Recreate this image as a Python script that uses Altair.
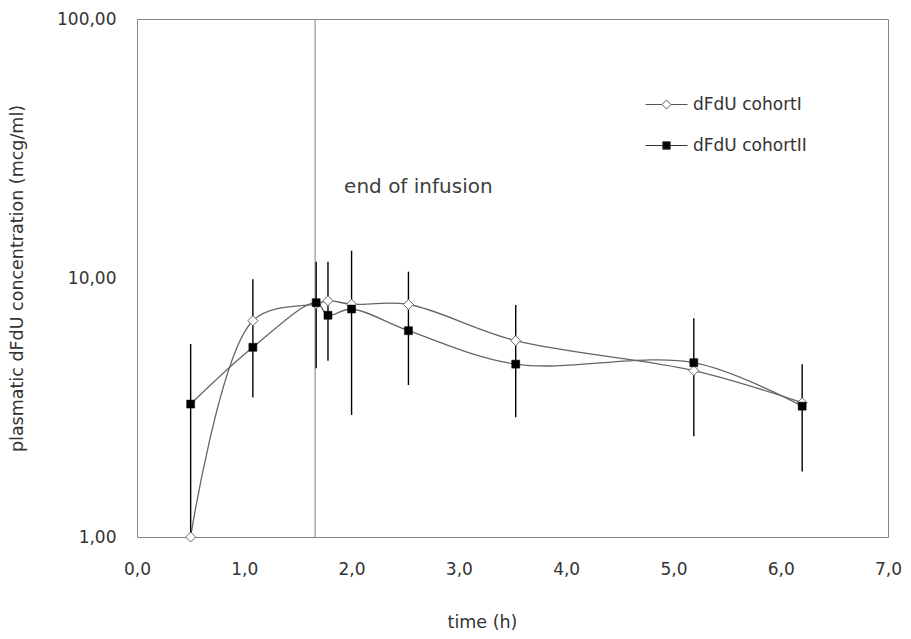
import altair as alt
import pandas as pd

# ---------------- data ----------------
series_names = ["dFdU cohortI", "dFdU cohortII"]
times = [0.5, 1.08, 1.67, 1.78, 2.0, 2.53, 3.53, 5.19, 6.2]
conc_cohort1 = [1.0, 6.84, 7.95, 8.17, 7.92, 7.90, 5.73, 4.39, 3.30]
conc_cohort2 = [3.26, 5.40, 8.03, 7.18, 7.59, 6.26, 4.65, 4.71, 3.20]
err_low = [1.0, 3.46, 4.48, 4.79, 2.96, 3.86, 2.90, 2.45, 1.79]
err_high = [5.56, 9.89, 11.56, 11.56, 12.75, 10.58, 7.87, 6.99, 4.65]
infusion_end = [1.66]
annotation_text = ["end of infusion"]
annotation_conc = [22.5]
x_ticks = [0, 1, 2, 3, 4, 5, 6, 7]
y_ticks = [1, 10, 100]

df1 = pd.DataFrame({"time": times, "conc": conc_cohort1, "series": series_names[0]})
df2 = pd.DataFrame({"time": times, "conc": conc_cohort2, "series": series_names[1]})
df_all = pd.concat([df1, df2], ignore_index=True)
df_err = pd.DataFrame({"time": times, "lo": err_low, "hi": err_high})
df_rule = pd.DataFrame({"time": infusion_end})
df_text = pd.DataFrame({"time": infusion_end, "conc": annotation_conc, "label": annotation_text})

FONT = "DejaVu Sans"
TXT = "#333333"
LINE = "#666666"

x_enc = alt.X(
    "time:Q",
    scale=alt.Scale(domain=[0, 7], nice=False, zero=False),
    axis=alt.Axis(
        values=x_ticks,
        labelExpr="replace(format(datum.value, '.1f'), '.', ',')",
        labelFlush=False,
        title="time (h)",
        titleX=345,
        titleY=76,
        titleBaseline="top",
        labelPadding=24,
    ),
)
y_scale = alt.Scale(type="log", domain=[1, 100], nice=False)
y_enc = alt.Y(
    "conc:Q",
    scale=y_scale,
    axis=alt.Axis(
        values=y_ticks,
        labelExpr="replace(format(datum.value, '.2f'), '.', ',')",
        labelFlush=False,
        title="plasmatic dFdU concentration (mcg/ml)",
        titleX=-111,
        labelPadding=21,
    ),
)

base = alt.Chart(df_all)

lines = base.mark_line(interpolate="catmull-rom", color=LINE, strokeWidth=1.3).encode(
    x=x_enc, y=y_enc, detail="series:N"
)

rule = alt.Chart(df_rule).mark_rule(color="#808080", strokeWidth=1).encode(x="time:Q")

errbars = alt.Chart(df_err).mark_rule(color="black", strokeWidth=1.4).encode(
    x="time:Q", y=alt.Y("lo:Q", scale=y_scale), y2="hi:Q"
)

diamonds = alt.Chart(df1).mark_point(
    shape="diamond", size=100, filled=True, fill="white", stroke="#666666", strokeWidth=1, opacity=1
).encode(x="time:Q", y=alt.Y("conc:Q", scale=y_scale))

squares = alt.Chart(df2).mark_point(
    shape="square", size=64, filled=True, fill="black", stroke="black", strokeWidth=0.5, opacity=1
).encode(x="time:Q", y=alt.Y("conc:Q", scale=y_scale))

text = alt.Chart(df_text).mark_text(
    align="left", baseline="middle", dx=29, fontSize=20, font=FONT, color="#404040"
).encode(x="time:Q", y=alt.Y("conc:Q", scale=y_scale), text="label:N")

path_diamond = "M-5.25,0H-1.125M1.125,0H5.25M0,-1.125L1.125,0L0,1.125L-1.125,0Z"
path_square = "M-5.25,0H-0.92M0.92,0H5.25M-0.92,-0.92H0.92V0.92H-0.92Z"

leg = alt.Legend(
    title=None,
    orient="none",
    legendX=521,
    legendY=77,
    symbolSize=64,
    symbolStrokeWidth=1,
    symbolStrokeColor="#555555",
    labelFont=FONT,
    labelFontSize=17,
    labelColor=TXT,
    labelOffset=18,
    rowPadding=23,
    padding=0,
)

legend_layer = alt.Chart(df_all).transform_filter("false").mark_point(
    filled=False, size=64, strokeWidth=1, opacity=1
).encode(
    x="time:Q",
    y=alt.Y("conc:Q", scale=y_scale),
    shape=alt.Shape("series:N", scale=alt.Scale(domain=series_names, range=[path_diamond, path_square]), legend=leg),
    fill=alt.Fill("series:N", scale=alt.Scale(domain=series_names, range=["white", "black"]), legend=leg),
    stroke=alt.Stroke("series:N", scale=alt.Scale(domain=series_names, range=["#555555", "#333333"]), legend=leg),
)

chart = (
    alt.layer(lines, rule, errbars, diamonds, squares, text, legend_layer)
    .properties(
        width=751,
        height=518,
        autosize="none",
        padding={"left": 129, "top": 11, "right": 15, "bottom": 94},
    )
    .configure_view(stroke="#868686", strokeWidth=1)
    .configure_axis(
        grid=False,
        domain=False,
        ticks=False,
        tickSize=0,
        labelFont=FONT,
        labelFontSize=17,
        labelColor=TXT,
        titleFont=FONT,
        titleFontSize=17.5,
        titleFontWeight="normal",
        titleColor=TXT,
    )
)

chart.save("out.html", embed_options={"renderer": "svg", "actions": False})
